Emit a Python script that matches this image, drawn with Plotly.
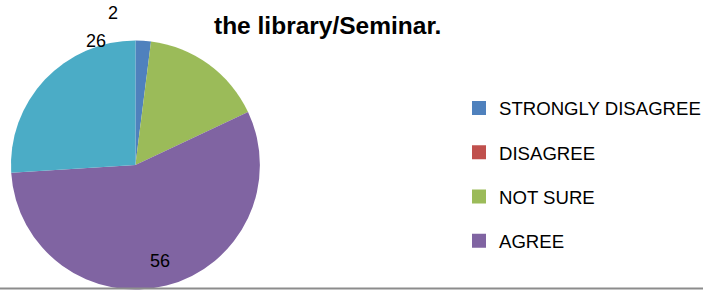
import math
import plotly.graph_objects as go

categories = ["STRONGLY DISAGREE", "DISAGREE", "NOT SURE", "AGREE", "STRONGLY AGREE"]
values = [2, 0, 16, 56, 26]
colors = ["#4F81BD", "#C0504D", "#9BBB59", "#8064A2", "#4BACC6"]
shown_labels = [True, False, False, True, True]
legend_items = ["STRONGLY DISAGREE", "DISAGREE", "NOT SURE", "AGREE"]
title_text = "<b>the library/Seminar.</b>"

W, H = 706, 290
dom_x = [11 / W, 261 / W]
dom_y = [0 / H, 250 / H]

fig = go.Figure()
fig.add_trace(go.Pie(
    labels=categories, values=values, sort=False, direction="clockwise",
    rotation=0, marker=dict(colors=colors, line=dict(width=0)),
    textinfo="none", showlegend=False, hoverinfo="label+value",
    domain=dict(x=dom_x, y=dom_y),
))

for name, col in zip(legend_items, colors):
    fig.add_trace(go.Scatter(
        x=[None], y=[None], mode="markers", name=name, legendgroup=name,
        marker=dict(symbol="square", size=14, color=col),
    ))

# data labels placed from the slice angles
total = sum(values)
cx = (dom_x[0] + dom_x[1]) / 2 * W
cy_px = H - (dom_y[0] + dom_y[1]) / 2 * H
R = 125
label_radius = {0: 1.226, 3: 0.79, 4: 1.045}
label_shift = {0: -0.211, 3: 0.0, 4: 0.509}
cum = 0
for i, v in enumerate(values):
    start = cum
    cum += v
    if not shown_labels[i]:
        continue
    mid = (start + cum) / 2 / total * 2 * math.pi + label_shift[i]
    r = R * label_radius[i]
    px = cx + r * math.sin(mid)
    py = cy_px - r * math.cos(mid)
    fig.add_annotation(
        x=px / W, y=1 - py / H, xref="paper", yref="paper", text=str(v),
        showarrow=False, font=dict(size=18, color="#000000", family="Liberation Sans"),
        xanchor="center", yanchor="middle",
    )

fig.add_annotation(
    x=329 / W, y=1 - 25 / H, xref="paper", yref="paper", text=title_text,
    showarrow=False, font=dict(size=24.5, color="#000000", family="Liberation Sans"),
    xanchor="center", yanchor="middle",
)

fig.add_shape(type="line", xref="paper", yref="paper", x0=0, x1=1,
              y0=1 - 288.5 / H, y1=1 - 288.5 / H,
              line=dict(color="#8C8C8C", width=2))

fig.update_layout(
    width=W, height=H, margin=dict(l=0, r=0, t=0, b=0),
    paper_bgcolor="white", plot_bgcolor="white",
    xaxis=dict(visible=False), yaxis=dict(visible=False),
    legend=dict(x=461 / W, xanchor="left", y=1 - 89.5 / H, yanchor="top",
                font=dict(size=18.6, color="#000000", family="Liberation Sans"),
                tracegroupgap=17, bgcolor="rgba(0,0,0,0)"),
    font=dict(family="Liberation Sans"),
)

fig.write_html("out.html", config={"displayModeBar": False},
               post_script="document.body.style.margin='0';")
